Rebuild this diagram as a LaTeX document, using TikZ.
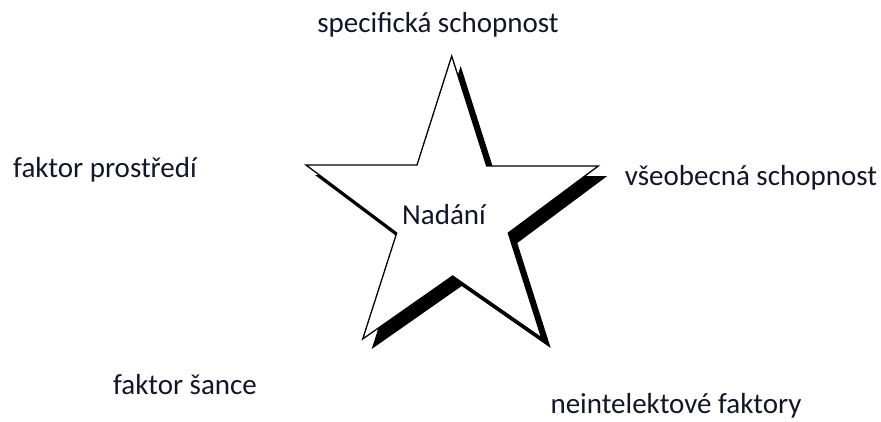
\documentclass[tikz,border=0pt]{standalone}
\usepackage{fontspec}
\setmainfont{Carlito}
\usepackage{xcolor}
\usepackage{tikz}
\usetikzlibrary{calc}
\definecolor{labeltext}{HTML}{14142A}
\tikzset{
  talent label/.style={
    font=\fontsize{29}{34}\selectfont,
    text=labeltext,
    inner sep=0pt,
    anchor=center
  },
  star edge/.style={
    draw=black,
    line width=1.3pt,
    line join=miter,
    fill=white
  },
  star shadow/.style={
    fill=black,
    draw=none,
    transform canvas={shift={(9,10)}}
  }
}

\begin{document}
\begin{tikzpicture}[x=1pt, y=-1pt]
  \useasboundingbox (0,0) rectangle (881,421);
  % star points (outer tips and inner corners)
  \coordinate (top)    at (451.7,56);
  \coordinate (innUL)  at (417,165);
  \coordinate (tipL)   at (306,165);
  \coordinate (innLL)  at (396.7,233);
  \coordinate (tipBL)  at (362.7,339);
  \coordinate (innB)   at (452.7,276);
  \coordinate (tipBR)  at (541.7,338);
  \coordinate (innLR)  at (508.3,233);
  \coordinate (tipR)   at (598.3,166);
  \coordinate (innUR)  at (486.7,166);

  % shadow
  \fill[star shadow] (top) -- (innUL) -- (tipL) -- (innLL) -- (tipBL) -- (innB)
    -- (tipBR) -- (innLR) -- (tipR) -- (innUR) -- cycle;
  % star
  \draw[star edge] (top) -- (innUL) -- (tipL) -- (innLL) -- (tipBL) -- (innB)
    -- (tipBR) -- (innLR) -- (tipR) -- (innUR) -- cycle;

  \node[talent label] (nadani)   at (444,215) {Nadání};
  \node[talent label] (specific) at (438,25)  {specifická schopnost};
  \node[talent label] (general)  at (751,178) {všeobecná schopnost};
  \node[talent label] (environ)  at (105,170) {faktor prostředí};
  \node[talent label] (chance)   at (185,385) {faktor šance};
  \node[talent label] (nonintel) at (676,406) {neintelektové faktory};
\end{tikzpicture}
\end{document}
